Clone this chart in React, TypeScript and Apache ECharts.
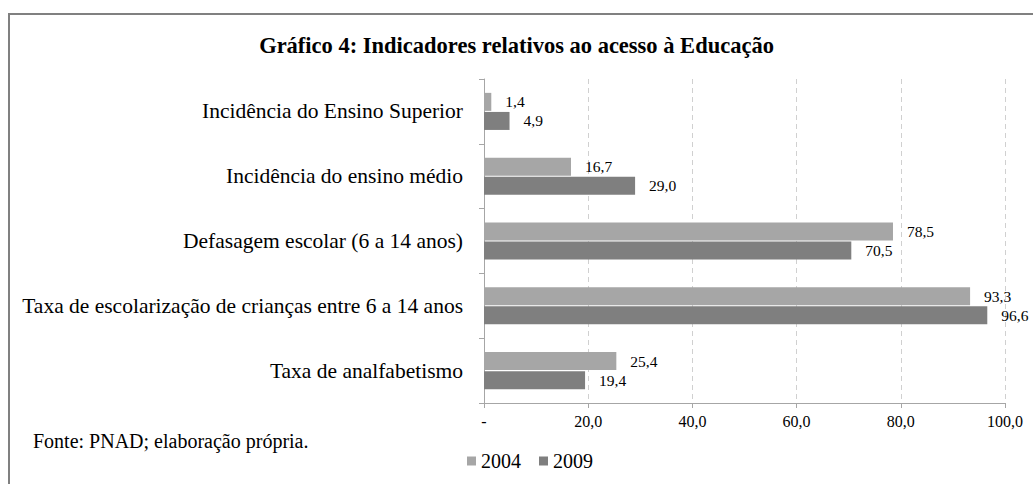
import React, { useEffect, useRef } from "react";
import * as echarts from "echarts";

const categories = [
  "Incidência do Ensino Superior",
  "Incidência do ensino médio",
  "Defasagem escolar (6 a 14 anos)",
  "Taxa de escolarização de crianças entre 6 a 14 anos",
  "Taxa de analfabetismo",
];
const values2004 = [1.4, 16.7, 78.5, 93.3, 25.4];
const values2009 = [4.9, 29.0, 70.5, 96.6, 19.4];
const seriesNames = ["2004", "2009"];
const xTicks = { min: 0, max: 100, interval: 20 };

const FONT = "Liberation Serif";
const fmt = (v: number) => v.toFixed(1).replace(".", ",");

export default function App() {
  const ref = useRef<HTMLDivElement>(null);
  useEffect(() => {
    if (!ref.current) return;
    const chart = echarts.init(ref.current, null, { renderer: "svg" });
    const label = {
      show: true,
      position: "right",
      distance: 14,
      fontFamily: FONT,
      fontSize: 15.5,
      color: "#000",
      formatter: (p: any) => fmt(p.value),
    };
    chart.setOption({
      animation: false,
      backgroundColor: "#fff",
      title: {
        text: "Gráfico 4: Indicadores relativos ao acesso à Educação",
        left: "center",
        top: 29,
        textStyle: { fontFamily: FONT, fontWeight: "bold", fontSize: 22.5, color: "#000" },
      },
      legend: {
        data: seriesNames,
        left: 462,
        top: 446,
        icon: "rect",
        itemWidth: 9,
        itemHeight: 9,
        itemGap: 18,
        textStyle: { fontFamily: FONT, fontSize: 20, color: "#000" },
      },
      grid: { left: 484, right: 28, top: 79, bottom: 81, containLabel: false },
      xAxis: {
        type: "value",
        min: xTicks.min,
        max: xTicks.max,
        interval: xTicks.interval,
        axisLine: { show: true, lineStyle: { color: "#a6a6a6", width: 1 } },
        axisTick: { show: true, length: 5, lineStyle: { color: "#a6a6a6" } },
        splitLine: { show: true, lineStyle: { color: "#d0d0d0", type: [5, 4] } },
        axisLabel: {
          fontFamily: FONT,
          fontSize: 16,
          color: "#000",
          margin: 10,
          formatter: (v: number) => (v === 0 ? "-" : fmt(v)),
        },
      },
      yAxis: {
        type: "category",
        inverse: true,
        data: categories,
        axisLine: { show: true, lineStyle: { color: "#a6a6a6", width: 1 } },
        axisTick: { show: true, length: 5, lineStyle: { color: "#a6a6a6" } },
        axisLabel: { fontFamily: FONT, fontSize: 21.5, color: "#000", margin: 21 },
      },
      series: [
        {
          name: seriesNames[0],
          type: "bar",
          data: values2004,
          barWidth: 18,
          barGap: "6%",
          itemStyle: { color: "#a6a6a6" },
          label,
        },
        {
          name: seriesNames[1],
          type: "bar",
          data: values2009,
          barWidth: 18,
          barGap: "6%",
          itemStyle: { color: "#7f7f7f" },
          label,
        },
      ],
      graphic: [
        {
          type: "rect",
          shape: { x: 9, y: 14, width: 1200, height: 700 },
          style: { fill: "none", stroke: "#808080", lineWidth: 2 },
          silent: true,
        },
        {
          type: "text",
          left: 33,
          top: 431,
          style: { text: "Fonte: PNAD; elaboração própria.", font: `20px ${FONT}`, fill: "#000" },
        },
      ],
    });
    return () => chart.dispose();
  }, []);
  return (
    <div
      ref={ref}
      style={{ position: "absolute", left: 0, top: 0, width: 1033, height: 484 }}
    />
  );
}
